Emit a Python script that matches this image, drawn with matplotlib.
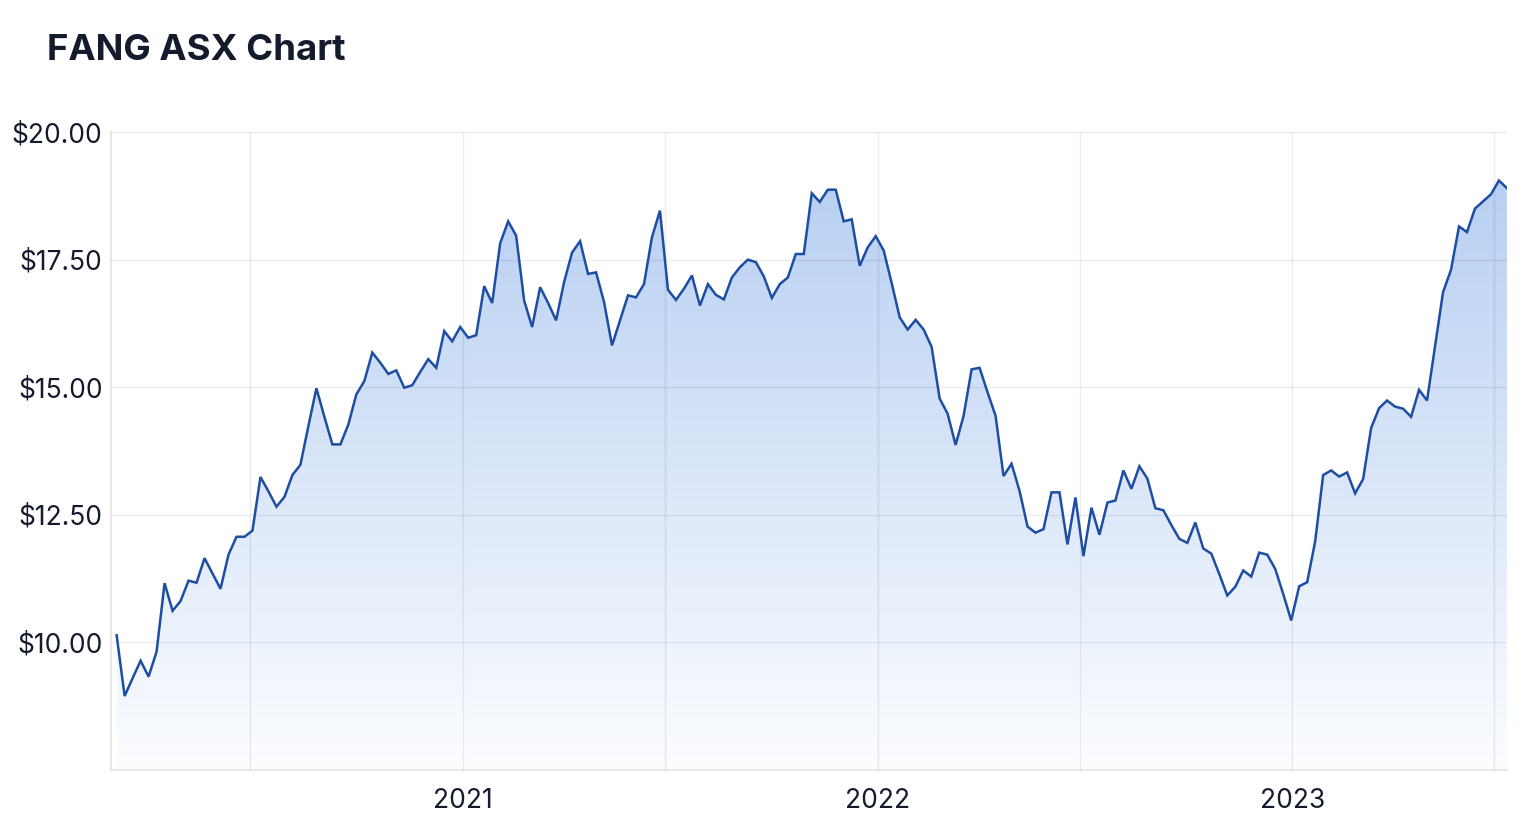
import numpy as np
import pandas as pd
import matplotlib
matplotlib.use('Agg')
import matplotlib.pyplot as plt
import matplotlib.dates as mdates
from matplotlib.colors import LinearSegmentedColormap
from matplotlib.ticker import FuncFormatter

# precios semanales (mar 2020 - jul 2023)
fecha_inicio = '2020-03-02'
fecha_fin = '2023-07-09'
precios = [
    10.14, 8.95, 9.30, 9.64, 9.33, 9.82, 11.16, 10.62, 10.81, 11.21,
    11.17, 11.65, 11.35, 11.05, 11.72, 12.07, 12.07, 12.19, 13.24, 12.96,
    12.66, 12.85, 13.28, 13.48, 14.24, 14.98, 14.42, 13.88, 13.88, 14.27,
    14.86, 15.12, 15.68, 15.48, 15.26, 15.33, 14.99, 15.04, 15.30, 15.55,
    15.38, 16.10, 15.90, 16.18, 15.97, 16.02, 16.98, 16.65, 17.82, 18.25,
    17.97, 16.70, 16.18, 16.96, 16.65, 16.31, 17.06, 17.64, 17.86, 17.22,
    17.25, 16.67, 15.82, 16.31, 16.80, 16.76, 17.02, 17.94, 18.46, 16.91,
    16.71, 16.93, 17.19, 16.60, 17.02, 16.81, 16.72, 17.15, 17.35, 17.50,
    17.45, 17.17, 16.75, 17.02, 17.15, 17.61, 17.61, 18.80, 18.63, 18.87,
    18.87, 18.25, 18.29, 17.38, 17.74, 17.96, 17.68, 17.04, 16.37, 16.13,
    16.32, 16.13, 15.79, 14.78, 14.48, 13.87, 14.44, 15.35, 15.38, 14.90,
    14.44, 13.26, 13.50, 12.97, 12.27, 12.15, 12.22, 12.94, 12.94, 11.92,
    12.84, 11.69, 12.64, 12.11, 12.74, 12.78, 13.37, 13.01, 13.45, 13.21,
    12.63, 12.59, 12.30, 12.03, 11.95, 12.35, 11.84, 11.74, 11.34, 10.92,
    11.09, 11.41, 11.29, 11.76, 11.72, 11.44, 10.95, 10.43, 11.10, 11.18,
    11.98, 13.28, 13.37, 13.25, 13.33, 12.92, 13.20, 14.20, 14.59, 14.74,
    14.62, 14.58, 14.42, 14.95, 14.74, 15.80, 16.86, 17.30, 18.15, 18.04,
    18.50, 18.64, 18.78, 19.05, 18.90,
]
precios_ticks = [10, 12.5, 15, 17.5, 20]
anios = ['2021-01-01', '2022-01-01', '2023-01-01']
medios = ['2020-06-27', '2021-06-28', '2022-06-28', '2023-06-28']

fechas = pd.date_range(fecha_inicio, fecha_fin, periods=len(precios))

plt.rcParams['font.family'] = ['Inter', 'DejaVu Sans']
texto = '#141b2d'
azul = '#1e4ea3'

fig = plt.figure(figsize=(15.22, 8.34), dpi=100)
ax = fig.add_axes([0.0729, 0.0767, 0.9172, 0.765])

x = mdates.date2num(fechas)
y_min, y_max = 7.5, 20
x_izq = x[0] - 5
x_der = x[-1]

# relleno con degradado recortado bajo la línea
relleno = ax.fill_between(x, precios, y_min, color='none', lw=0)
camino = relleno.get_paths()[0]
degradado = np.linspace(1, 0, 256).reshape(-1, 1)
cmap = LinearSegmentedColormap.from_list('fang', ['#fcfdff', '#b7cff2'])
im = ax.imshow(degradado, extent=[x_izq, x_der, y_min, 19.2], aspect='auto',
               cmap=cmap, origin='upper', zorder=1, interpolation='bilinear')
im.set_clip_path(camino, transform=ax.transData)

ax.plot(x, precios, color=azul, lw=1.8, zorder=3, solid_joinstyle='miter')

ax.set_xlim(x_izq, x_der)
ax.set_ylim(y_min, y_max)

ax.set_yticks(precios_ticks)
ax.yaxis.set_major_formatter(FuncFormatter(lambda v, p: f'${v:,.2f}'))
ax.set_xticks(mdates.date2num(pd.to_datetime(anios)))
ax.set_xticklabels([a[:4] for a in anios])
ax.set_xticks(mdates.date2num(pd.to_datetime(medios)), minor=True)

ax.grid(True, which='both', color='#000000', alpha=0.075, lw=1.0, zorder=4)
ax.set_axisbelow(False)
ax.tick_params(axis='both', which='both', length=0, labelsize=19, colors=texto)
ax.tick_params(axis='y', pad=6)
ax.tick_params(axis='x', pad=13)

for lado in ['top', 'right']:
    ax.spines[lado].set_visible(False)
for lado in ['left', 'bottom']:
    ax.spines[lado].set_color('#e3e3e6')
    ax.spines[lado].set_linewidth(1.2)

fig.text(47 / 1522, 1 - 50 / 834, 'FANG ASX Chart', fontsize=26.3, fontweight='bold',
         color=texto, ha='left', va='center')

fig.savefig('out.png', dpi=100, facecolor='white')
